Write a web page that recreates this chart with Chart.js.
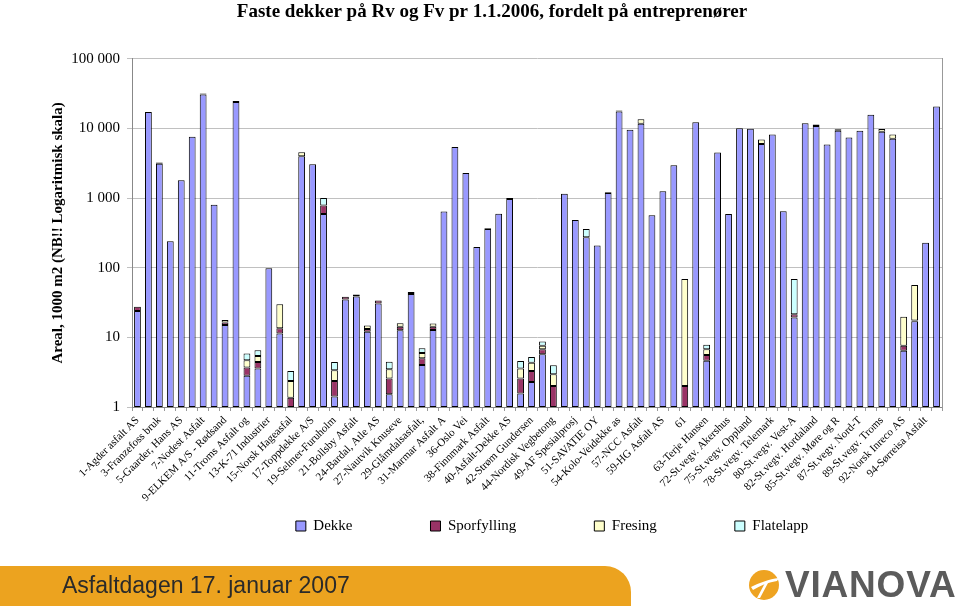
<!DOCTYPE html>
<html>
<head>
<meta charset="utf-8">
<script src="https://cdn.jsdelivr.net/npm/chart.js@4.4.1/dist/chart.umd.min.js"></script>
<style>
  body { margin: 0; background: #fff; width: 960px; height: 611px; overflow: hidden; position: relative; }
  #wrap { position: absolute; left: 0; top: 0; width: 960px; height: 610px; }
  #banner {
    position: absolute; left: 0; top: 566px; width: 631px; height: 40px;
    background: #eca31f; border-top-right-radius: 26px;
  }
  #banner span {
    position: absolute; left: 62px; top: 6px;
    font-family: "Liberation Sans", Arial, sans-serif; font-size: 23px; color: #2a2a2a;
  }
  #logo { position: absolute; left: 746px; top: 568px; }
</style>
</head>
<body>
<div id="wrap"><canvas id="chart"></canvas></div>
<div id="banner"><span>Asfaltdagen 17. januar 2007</span></div>
<svg id="logo" width="214" height="36" viewBox="0 0 214 36">
  <circle cx="18" cy="17" r="15" fill="#eea321"/>
  <path d="M5 19 C13 15 23 11 33 10 L31 13 C23 14 15 17 7 22 Z" fill="#fff"/>
  <path d="M19 15 L11 30 L14 30 L22 15 Z" fill="#fff"/>
  <text x="39" y="29" font-family="Liberation Sans, Arial, sans-serif" font-weight="bold" font-size="37" letter-spacing="0.8" fill="#5b5b5b">VIANOVA</text>
</svg>

<script>
// entreprenører (every other label shown on the axis)
const categories = [
  '1-Agder asfalt AS', '2', '3-Franzefoss bruk', '4', '5-Gaarder, Hans AS', '6',
  '7-Nodest Asfalt', '8', '9-ELKEM A/S - Rødsand', '10', '11-Troms Asfalt og', '12',
  '13-K-71 Industrier', '14', '15-Norsk Hageasfal', '16', '17-Toppdekke A/S', '18',
  '19-Selmer-Furuholm', '20', '21-Bollsby Asfalt', '22', '24-Bardal, Atle AS', '25',
  '27-Nautvik Knuseve', '28', '29-Glåmdalsasfalt,', '30', '31-Marmar Asfalt A', '32',
  '36-Oslo Vei', '37', '38-Finnmark Asfalt', '39', '40-Asfalt-Dekke AS', '41',
  '42-Strøm Gundersen', '43', '44-Nordisk Vegbetong', '45', '49-AF Spesialprosj', '50',
  '51-SAVATIE OY', '52', '54-Kolo-Veidekke as', '55', '57-NCC Asfalt', '58',
  '59-HG Asfalt AS', '60', '61', '62', '63-Terje Hansen', '64',
  '72-St.vegv. Akershus', '73', '75-St.vegv. Oppland', '76', '78-St.vegv. Telemark', '79',
  '80-St.vegv. Vest-A', '81', '82-St.vegv. Hordaland', '83', '85-St.vegv. Møre og R', '86',
  '87-St.vegv. Nord-T', '88', '89-St.vegv. Troms', '90', '92-Norsk Inreco AS', '93',
  '94-Sørreisa Asfalt', '95'
];

// areal, 1000 m2
const dekke = [
  24, 17200, 3100, 239, 1810, 7600, 30800, 800, 15.1, 24000,
  2.8, 3.56, 98, 11.4, null, 4000, 3070, 592, 1.41, 35,
  38.5, 12, 30.7, 1.52, 12.7, 42, 4.0, 12.8, 640, 5400,
  2300, 198, 360, 598, 970, 1.56, 2.29, 5.72, null, 1150,
  485, 273, 209, 1180, 17500, 9600, 11700, 566, 1250, 2970,
  null, 12300, 4.6, 4500, 592, 10100, 9900, 6000, 8200, 647,
  19.3, 11900, 10800, 5890, 9300, 7400, 9250, 15700, 9000, 7100,
  6.4, 17, 229, 20700
];
const sporfylling = [
  3.5, null, null, null, null, null, 1000, null, 1.3, 800,
  0.9, 0.88, null, 2.1, 1.36, null, null, 188, 0.96, 3.3,
  2.8, 1.2, 3.2, 1.04, 1.5, 2.7, 1.0, 1.4, null, null,
  null, null, 8, null, 35, 1.0, 1.0, 1.04, 2.0, null,
  null, null, null, 35, 650, null, null, null, null, null,
  2.0, null, 1.0, null, null, null, null, null, null, null,
  2.2, null, 600, null, 400, null, null, null, null, null,
  1.15, 0.5, null, null
];
const fresing = [
  null, null, 150, null, null, null, null, null, 1.3, null,
  1.0, 0.98, null, 16.5, 1.0, 560, null, null, 1.0, null,
  null, 1.6, null, 0.92, 1.8, null, 0.95, 1.6, null, null,
  null, null, null, null, null, 1.0, 1.04, 0.8, 0.95, null,
  null, null, null, null, null, null, 1800, null, null, null,
  66.7, null, 1.16, null, null, null, null, 950, null, null,
  null, null, null, null, null, null, null, null, 780, 1100,
  12.2, 38.8, null, null
];
const flatelapp = [
  null, null, null, null, null, null, null, null, null, null,
  1.15, 1.12, null, null, 0.93, null, null, 225, 1.07, null,
  null, null, null, 1.0, null, null, 1.05, null, null, null,
  null, null, null, null, null, 1.03, 0.9, 1.16, 1.03, null,
  null, 87, null, null, null, null, null, null, null, null,
  null, null, 1.04, null, null, null, null, null, null, null,
  47.2, null, null, null, null, null, null, null, null, null,
  null, null, null, null
];
const yTicks = [1, 10, 100, 1000, 10000, 100000];

const serif = '"Liberation Serif", "Times New Roman", serif';
const legendPad = 78;

function fmt(v) {
  return String(v).replace(/\B(?=(\d{3})+(?!\d))/g, ' ');
}

function series(label, data, color) {
  return {
    label: label,
    data: data,
    backgroundColor: color,
    borderColor: '#000000',
    borderWidth: 1,
    borderSkipped: false,
    barPercentage: 0.62,
    categoryPercentage: 1.0
  };
}

// the wide legend spacing needs a big padding, pull the legend back up under the labels
const legendNudge = {
  id: 'legendNudge',
  afterLayout: function(chart) {
    const lg = chart.legend;
    const h = lg.bottom - lg.top;
    lg.top = 526 - 7.5 - legendPad;
    lg.bottom = lg.top + h;
    lg.left += 15;
    lg.right += 15;
  }
};

new Chart(document.getElementById('chart'), {
  type: 'bar',
  data: {
    labels: categories,
    datasets: [
      series('Dekke', dekke, '#9999ff'),
      series('Sporfylling', sporfylling, '#993366'),
      series('Fresing', fresing, '#ffffcc'),
      series('Flatelapp', flatelapp, '#ccffff')
    ]
  },
  plugins: [legendNudge],
  options: {
    responsive: true,
    maintainAspectRatio: false,
    animation: false,
    layout: { padding: { left: 42, right: 18, top: 0, bottom: 0 } },
    plugins: {
      title: {
        display: true,
        text: 'Faste dekker på Rv og Fv pr 1.1.2006, fordelt på entreprenører',
        color: '#000',
        font: { family: serif, size: 19, weight: 'bold' },
        padding: { top: 1, bottom: 35 }
      },
      legend: {
        position: 'bottom',
        fullSize: false,
        labels: {
          color: '#000',
          font: { family: serif, size: 15 },
          boxWidth: 10,
          boxHeight: 10,
          padding: legendPad
        }
      },
      tooltip: { enabled: false }
    },
    scales: {
      x: {
        stacked: true,
        afterFit: function(scale) { scale.height = 100; },
        grid: { drawOnChartArea: false, tickLength: 4, color: '#999' },
        border: { color: '#888' },
        ticks: {
          autoSkip: false,
          minRotation: 45,
          maxRotation: 45,
          padding: 3,
          color: '#000',
          font: { family: serif, size: 11 },
          callback: function(value, index) {
            return index % 2 === 0 ? this.getLabelForValue(value) : '';
          }
        }
      },
      y: {
        type: 'logarithmic',
        stacked: true,
        min: 1,
        max: 100000,
        afterFit: function(scale) { scale.width = 90; },
        afterBuildTicks: function(scale) {
          scale.ticks = yTicks.map(function(v) { return { value: v }; });
        },
        grid: { color: '#c0c0c0', tickLength: 5 },
        border: { color: '#888' },
        ticks: {
          padding: 7,
          color: '#000',
          font: { family: serif, size: 15 },
          callback: function(value) { return fmt(value); }
        },
        title: {
          display: true,
          text: 'Areal, 1000 m2 (NB!! Logaritmisk skala)',
          color: '#000',
          font: { family: serif, size: 15, weight: 'bold' },
          padding: { top: 7, bottom: 0 }
        }
      },
      y2: {
        position: 'right',
        afterFit: function(scale) { scale.width = 0; },
        grid: { display: false },
        ticks: { display: false },
        border: { display: true, color: '#999' }
      }
    }
  }
});
</script>
</body>
</html>
